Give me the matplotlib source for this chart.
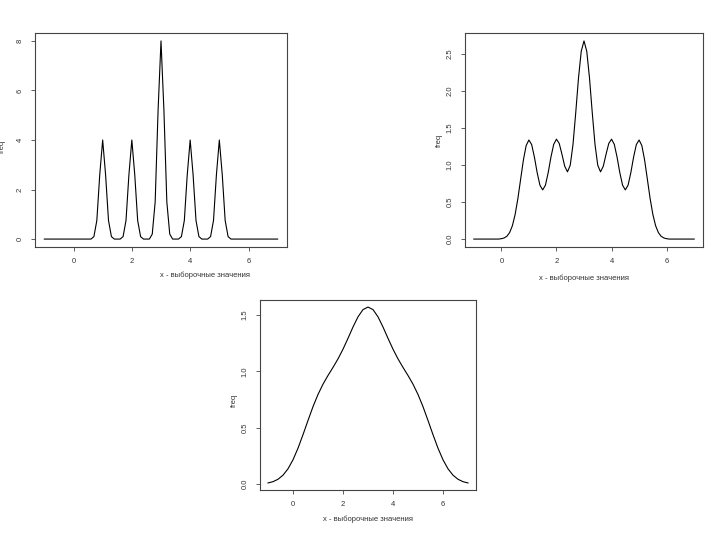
import matplotlib
matplotlib.use("Agg")
import matplotlib.pyplot as plt
import numpy as np

plt.rcParams['font.family'] = ['Liberation Sans', 'DejaVu Sans']

XLABEL = "x - выборочные значения"
YLABEL = "freq"
XTICKS = [0, 2, 4, 6]

# grid of x values for the first two curves (-1 .. 7, step 0.1)
x_fine = np.linspace(-1, 7, 81)
# grid for the third curve (-1 .. 7, step 0.2)
x_coarse = np.linspace(-1, 7, 41)

# small bandwidth
dens_narrow = [
    0, 0, 0, 0, 0, 0, 0, 0, 0, 0,           # -1.0 .. -0.1
    0, 0, 0, 0, 0, 0, 0, 0.1, 0.75, 2.6,    # 0.0 .. 0.9
    4, 2.6, 0.75, 0.1, 0, 0, 0, 0.1, 0.75, 2.6,   # 1.0 .. 1.9
    4, 2.6, 0.75, 0.1, 0, 0, 0, 0.2, 1.5, 5.2,    # 2.0 .. 2.9
    8, 5.2, 1.5, 0.2, 0, 0, 0, 0.1, 0.75, 2.6,    # 3.0 .. 3.9
    4, 2.6, 0.75, 0.1, 0, 0, 0, 0.1, 0.75, 2.6,   # 4.0 .. 4.9
    4, 2.6, 0.75, 0.1, 0, 0, 0, 0, 0, 0,          # 5.0 .. 5.9
    0, 0, 0, 0, 0, 0, 0, 0, 0, 0,                 # 6.0 .. 6.9
    0,                                            # 7.0
]

# medium bandwidth
dens_medium = [
    0, 0, 0, 0, 0, 0, 0, 0, 0, 0,
    0.005, 0.015, 0.038, 0.088, 0.180, 0.332, 0.548, 0.809, 1.068, 1.263,
    1.338, 1.276, 1.106, 0.897, 0.728, 0.664, 0.728, 0.897, 1.107, 1.279,
    1.349, 1.292, 1.145, 0.984, 0.908, 0.996, 1.276, 1.706, 2.174, 2.537,
    2.676, 2.537, 2.174, 1.706, 1.276, 0.996, 0.908, 0.984, 1.145, 1.292,
    1.349, 1.279, 1.107, 0.897, 0.728, 0.664, 0.728, 0.897, 1.106, 1.276,
    1.338, 1.263, 1.068, 0.809, 0.548, 0.332, 0.180, 0.088, 0.038, 0.015,
    0.005, 0, 0, 0, 0, 0, 0, 0, 0, 0,
    0,
]

# wide bandwidth
dens_wide = [
    0.0097, 0.0211, 0.0424, 0.0787, 0.1353, 0.2152, 0.318, 0.438, 0.564, 0.6865,
    0.7947, 0.8858, 0.963, 1.0346, 1.1102, 1.196, 1.2927, 1.393, 1.4832, 1.5472,
    1.570,
    1.5472, 1.4832, 1.393, 1.2927, 1.196, 1.1102, 1.0346, 0.963, 0.8858, 0.7947,
    0.6865, 0.564, 0.438, 0.318, 0.2152, 0.1353, 0.0787, 0.0424, 0.0211, 0.0097,
]

yticks_narrow = [0, 2, 4, 6, 8]
yticks_medium = [0.0, 0.5, 1.0, 1.5, 2.0, 2.5]
yticks_wide = [0.0, 0.5, 1.0, 1.5]


def r_style(ax, x, y, yticks, ylabels, xlab_pos, ylab_pos):
    ax.plot(x, y, color="black", lw=0.8)
    ax.set_xlim(-1.32, 7.32)
    lo, hi = min(y), max(y)
    pad = (hi - lo) * 0.04
    ax.set_ylim(lo - pad, hi + pad)
    ax.set_xticks(XTICKS)
    ax.set_xticklabels([str(t) for t in XTICKS])
    ax.set_yticks(yticks)
    ax.set_yticklabels(ylabels)
    for lab in ax.get_yticklabels():
        lab.set_rotation(90)
        lab.set_va("center")
    ax.tick_params(direction="out", length=3, width=0.6, color="#444444",
                   labelsize=5.5, labelcolor="#333333", pad=5)
    for s in ax.spines.values():
        s.set_linewidth(0.8)
        s.set_color("#444444")
    ax.set_xlabel(XLABEL, fontsize=5.5, color="#333333")
    ax.set_ylabel(YLABEL, fontsize=5.5, color="#333333")
    ax.xaxis.set_label_coords(*xlab_pos)
    ax.yaxis.set_label_coords(*ylab_pos)


fig = plt.figure(figsize=(7.2, 5.4), dpi=100)
ax1 = fig.add_axes([35 / 720, 1 - 247 / 540, 252 / 720, 214 / 540])
ax2 = fig.add_axes([465 / 720, 1 - 247 / 540, 238 / 720, 214 / 540])
ax3 = fig.add_axes([260 / 720, 1 - 490 / 540, 216 / 720, 190 / 540])

r_style(ax1, x_fine, dens_narrow, yticks_narrow, ["0", "2", "4", "6", "8"],
        (0.675, -0.117), (-0.115, 0.47))
r_style(ax2, x_fine, dens_medium, yticks_medium,
        ["0.0", "0.5", "1.0", "1.5", "2.0", "2.5"],
        (0.5, -0.129), (-0.092, 0.5))
r_style(ax3, x_coarse, dens_wide, yticks_wide, ["0.0", "0.5", "1.0", "1.5"],
        (0.5, -0.137), (-0.102, 0.47))

fig.savefig("out.png", dpi=100)
